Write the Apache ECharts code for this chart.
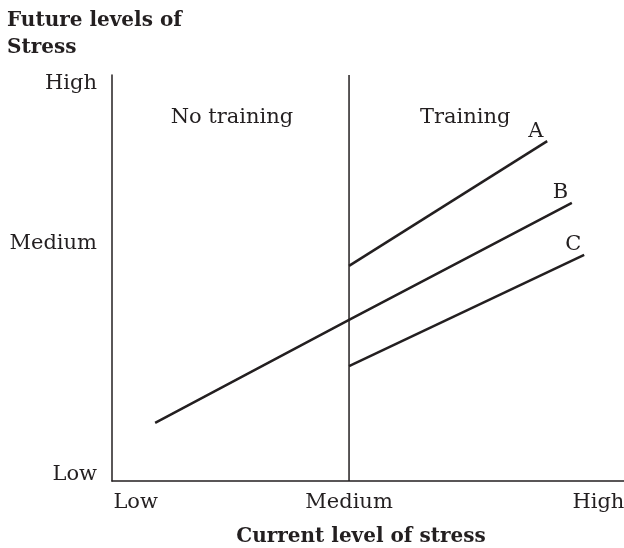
<!DOCTYPE html>
<html><head><meta charset="utf-8">
<script src="https://cdn.jsdelivr.net/npm/echarts@6/dist/echarts.min.js"></script>
<style>html,body{margin:0;padding:0;background:#fff;overflow:hidden}#c{width:624px;height:548px}</style>
</head><body><div id="c"></div>
<script>
// Tick labels and their positions on the (unitless) axes
const xTickLabels = ['Low', 'Medium', 'High'];
const xTickValues = [5, 50, 102.6];
const yTickLabels = ['Low', 'Medium', 'High'];
const yTickValues = [1.6, 58.6, 98];

// Lines (current stress, future stress)
const lineA = [[50, 53.0], [91.8, 83.7]];
const lineB = [[9.1, 14.3], [50, 39.7], [97.0, 68.5]];
const lineC = [[50, 28.3], [99.6, 55.7]];
const lineNames = ['A', 'B', 'C'];

// Vertical divider at medium current stress
const divider = [[50, 0], [50, 100]];

// Region annotations
const regionNotes = [
  { name: 'No training', coord: [25.3, 89.4] },
  { name: 'Training', coord: [74.5, 89.4] }
];

const INK = '#231f20';
const FONT = 'DejaVu Serif';
const FS = 21;

const chart = echarts.init(document.getElementById('c'), null, { renderer: 'canvas', width: 624, height: 548 });

function lineSeries(name, data) {
  return {
    type: 'line', name: name, data: data,
    symbol: 'none', silent: true, animation: false,
    lineStyle: { color: INK, width: 2.5 },
    endLabel: {
      show: true, formatter: name, color: INK, fontFamily: FONT, fontSize: FS,
      offset: [-27, -10]
    }
  };
}

chart.setOption({
  animation: false,
  backgroundColor: '#fff',
  title: {
    text: 'Future levels of\nStress', left: 2, top: 2,
    textStyle: { fontFamily: FONT, fontWeight: 'bold', fontSize: 20, lineHeight: 27, color: INK }
  },
  grid: { left: 112, right: 0, top: 75, bottom: 67, outerBoundsMode: 'none', containLabel: false },
  xAxis: {
    type: 'value', min: 0, max: 108,
    axisLine: { show: true, onZero: false, lineStyle: { color: INK, width: 1.5 } },
    axisTick: { show: false }, splitLine: { show: false },
    axisLabel: {
      customValues: xTickValues, margin: 11,
      formatter: v => xTickLabels[xTickValues.indexOf(v)],
      color: INK, fontFamily: FONT, fontSize: FS
    },
    name: 'Current level of stress', nameLocation: 'middle', nameGap: 46,
    nameTextStyle: { fontFamily: FONT, fontWeight: 'bold', fontSize: 20, color: INK, padding: [0, 14, 0, 0] }
  },
  yAxis: {
    type: 'value', min: 0, max: 100,
    axisLine: { show: true, onZero: false, lineStyle: { color: INK, width: 1.5 } },
    axisTick: { show: false }, splitLine: { show: false },
    axisLabel: {
      customValues: yTickValues, margin: 15,
      formatter: v => yTickLabels[yTickValues.indexOf(v)],
      color: INK, fontFamily: FONT, fontSize: FS
    }
  },
  series: [
    {
      type: 'line', data: divider, symbol: 'none', silent: true,
      lineStyle: { color: INK, width: 1.5 },
      markPoint: {
        symbol: 'rect', symbolSize: 0,
        label: { show: true, position: 'inside', formatter: p => p.name, color: INK, fontFamily: FONT, fontSize: FS },
        data: regionNotes
      }
    },
    lineSeries(lineNames[0], lineA),
    lineSeries(lineNames[1], lineB),
    lineSeries(lineNames[2], lineC)
  ]
});
</script></body></html>
